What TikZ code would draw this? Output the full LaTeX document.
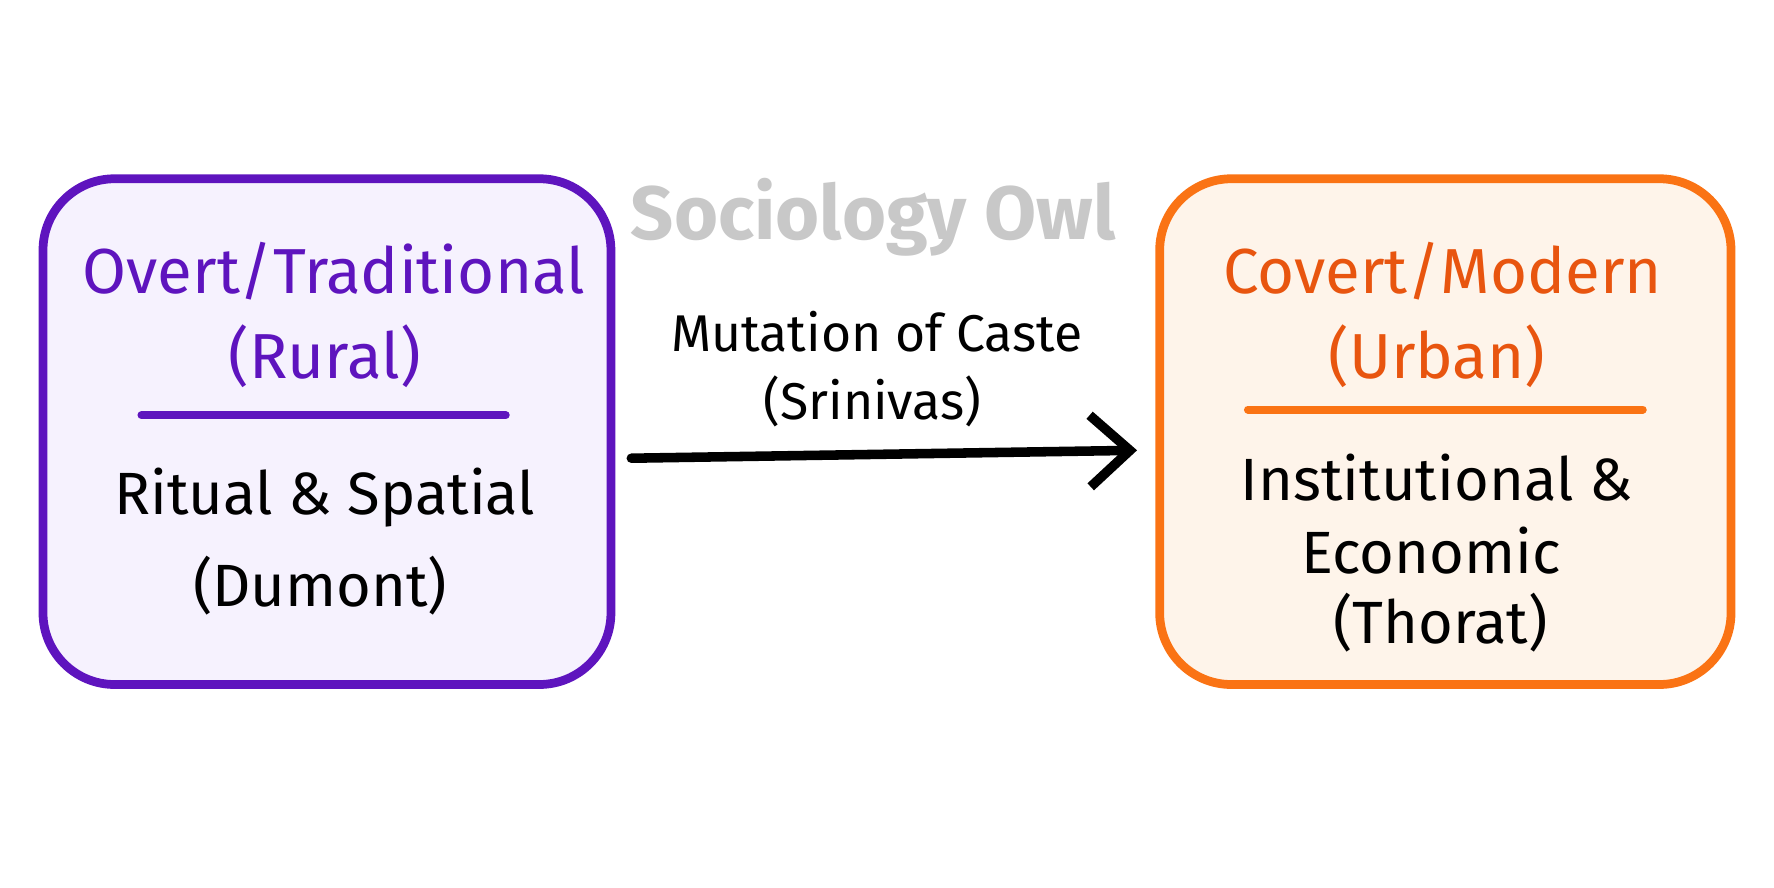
\documentclass[tikz,border=0pt]{standalone}
\usepackage{fontspec}
\setmainfont{Fira Sans}
\usepackage{tikz}
\usetikzlibrary{arrows.meta}
\definecolor{ruralpurple}{RGB}{94,20,190}
\definecolor{ruralfill}{RGB}{246,242,254}
\definecolor{urbanorange}{RGB}{250,115,20}
\definecolor{urbanfill}{RGB}{254,244,234}
\definecolor{urbantext}{RGB}{232,85,15}
\definecolor{owlgrey}{RGB}{200,200,200}
\tikzset{
  box/.style = {line width=2.2pt, rounded corners=18pt},
  head/.style = {font=\fontsize{16}{19}\selectfont, inner sep=1pt},
  body/.style = {font=\fontsize{15}{18}\selectfont, inner sep=1pt},
  lbl/.style = {font=\fontsize{13}{16}\selectfont, inner sep=1pt},
}
\begin{document}
\begin{tikzpicture}
				\useasboundingbox (0,0) rectangle (15.68,7.84);
				% boxes
				\draw[box, draw=ruralpurple, fill=ruralfill] (0.38,1.79) rectangle (5.40,6.26);
				\draw[box, draw=urbanorange, fill=urbanfill] (10.25,1.79) rectangle (15.30,6.26);
				\draw[ruralpurple, line width=2pt, line cap=round] (1.25,4.17) -- (4.47,4.17);
				\draw[urbanorange, line width=2pt, line cap=round] (11.03,4.22) -- (14.52,4.22);
				% watermark
				\node[font=\bfseries\fontsize{19}{22}\selectfont, text=owlgrey] (owl) at (7.72,5.92) {Sociology Owl};
				% left texts
				\node[head, text=ruralpurple] (ltop) at (2.95,5.44) {Overt/Traditional};
				\node[head, text=ruralpurple] (lsub) at (2.87,4.69) {(Rural)};
				\node[body] (lbody) at (2.87,3.44) {Ritual \& Spatial};
				\node[body] (lauth) at (2.83,2.66) {(Dumont)};
				% right texts
				\node[head, text=urbantext] (rtop) at (12.75,5.44) {Covert/Modern};
				\node[head, text=urbantext] (rsub) at (12.70,4.69) {(Urban)};
				\node[body] (rbody) at (12.70,3.62) {Institutional \&};
				\node[body] (recon) at (12.65,2.97) {Economic};
				\node[body] (rauth) at (12.73,2.34) {(Thorat)};
				% arrow
				\coordinate (from) at (5.58,3.79);
				\coordinate (to) at (10.05,3.86);
				\draw[line width=2.4pt, line cap=round, -{Straight Barb[length=10pt,width=18pt,line width=2.4pt]}] (from) -- (to);
				\node[lbl] (mut) at (7.75,4.91) {Mutation of Caste};
				\node[lbl] (srin) at (7.71,4.29) {(Srinivas)};
\end{tikzpicture}
\end{document}
